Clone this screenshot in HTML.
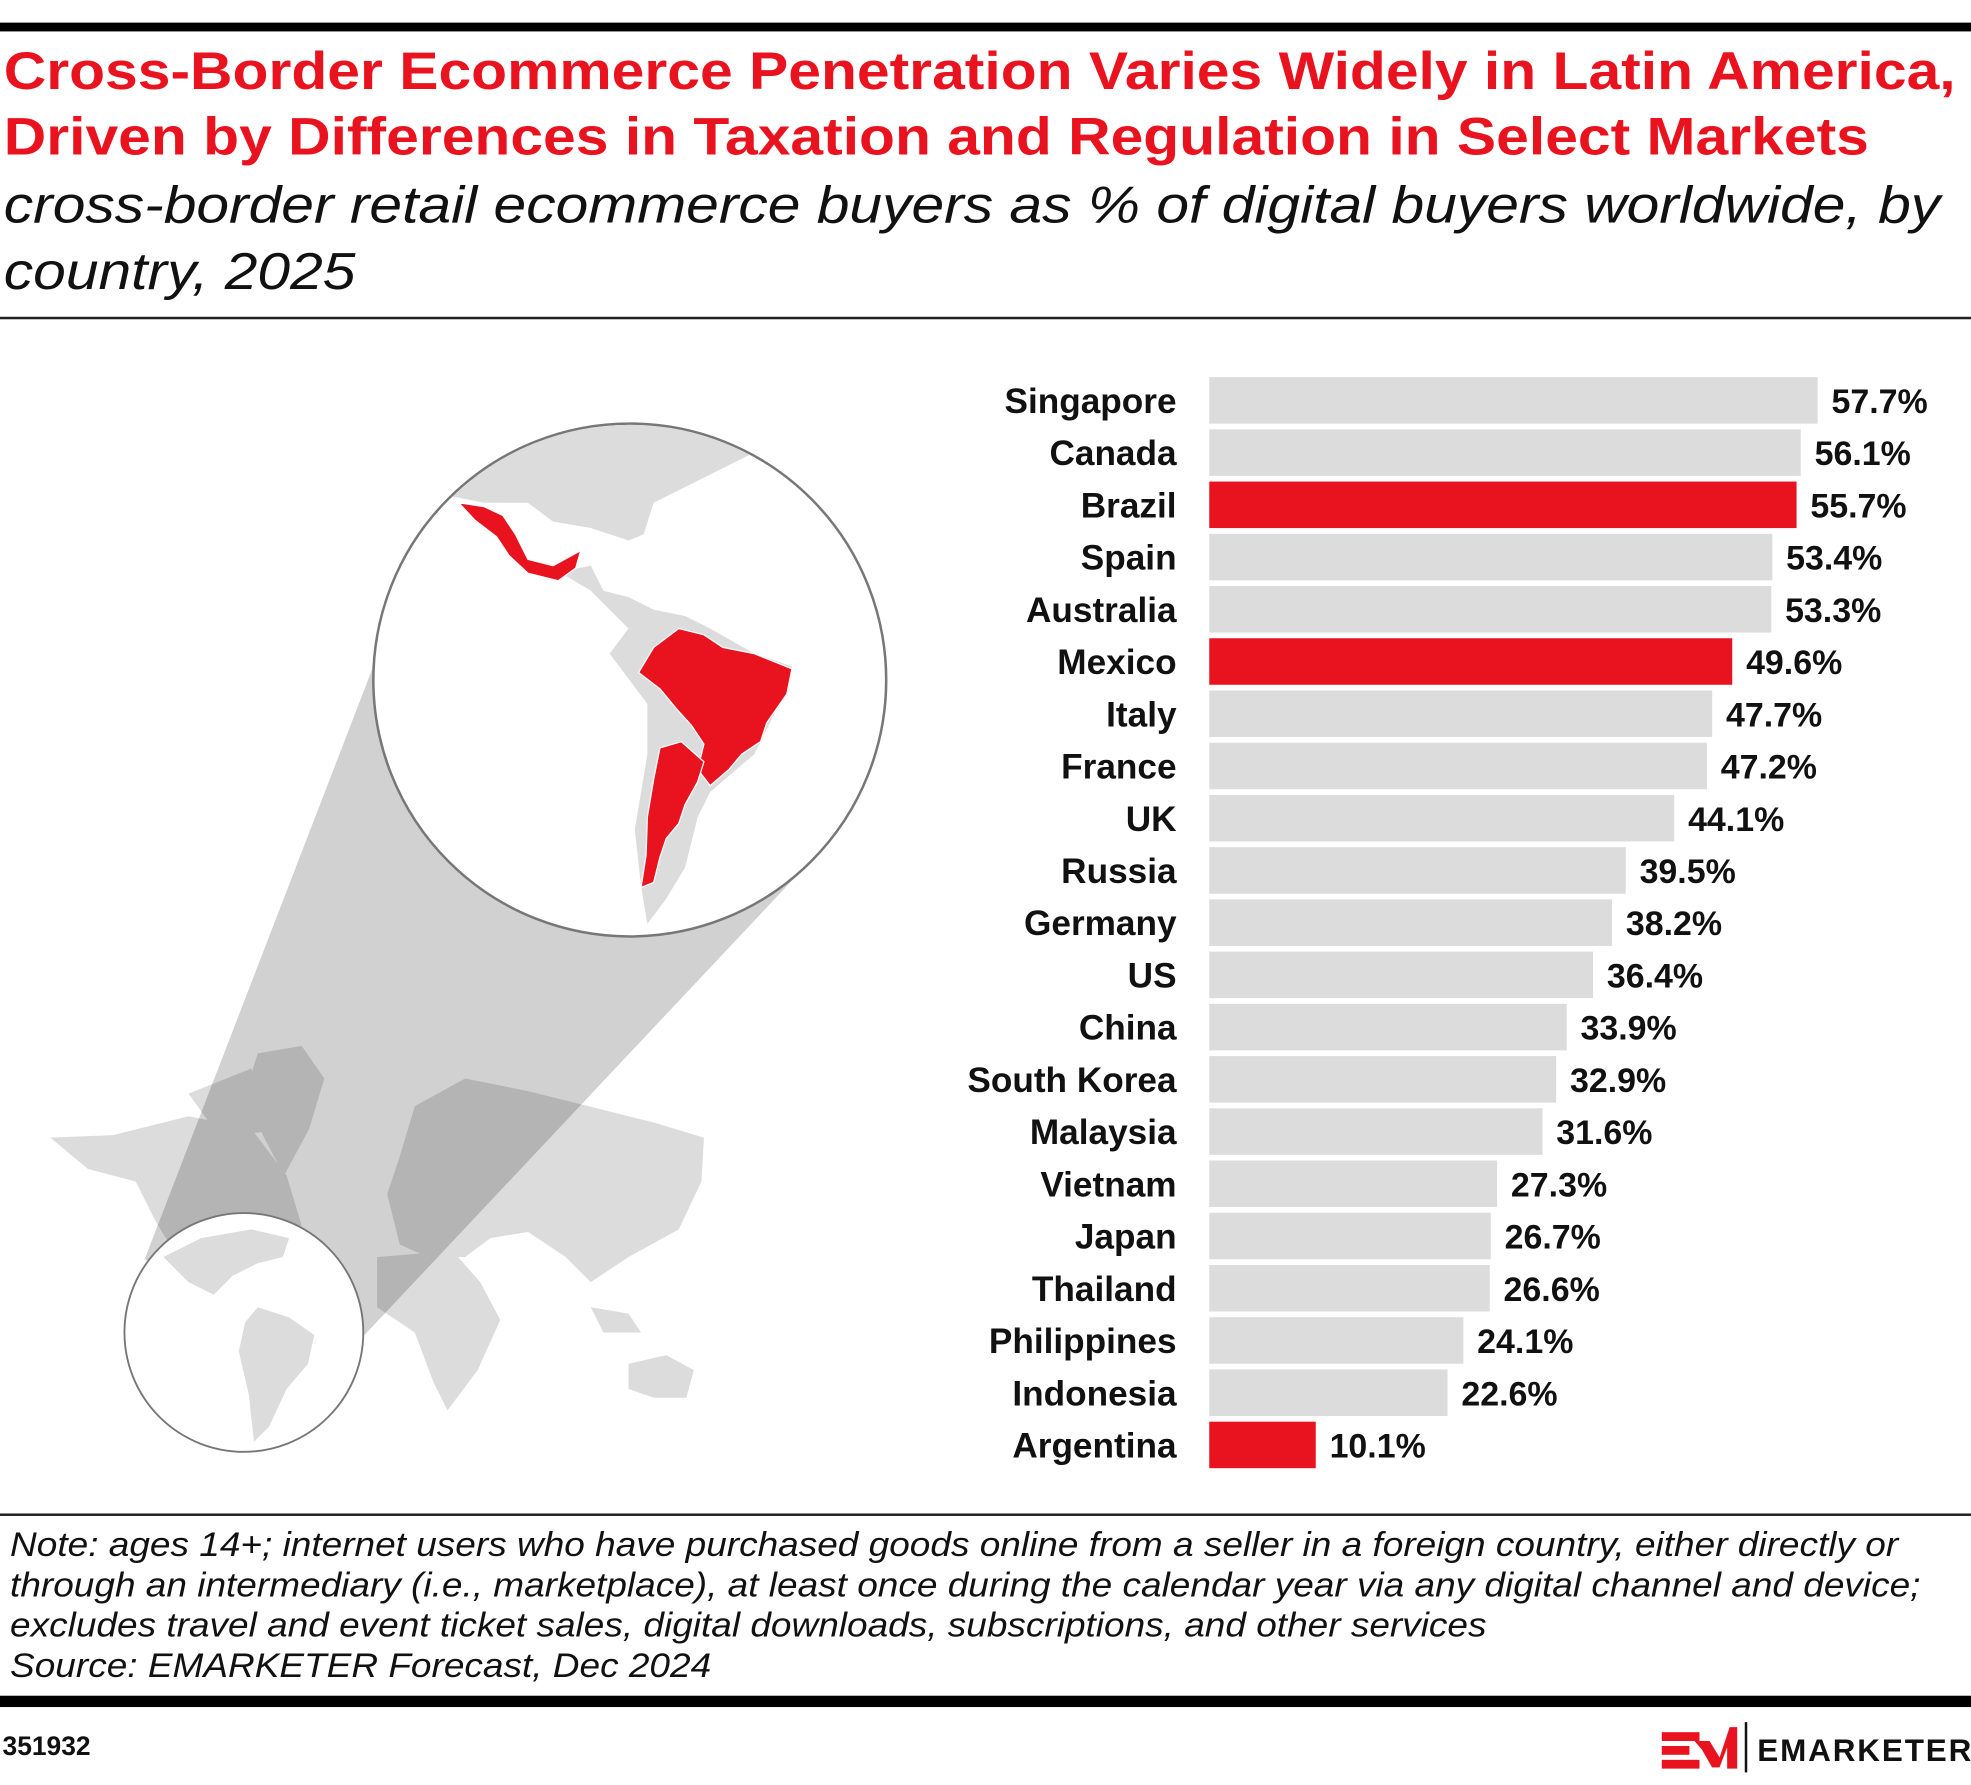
<!DOCTYPE html>
<html><head><meta charset="utf-8">
<style>
html,body{margin:0;padding:0;background:#fff;}
body{width:1971px;height:1785px;overflow:hidden;position:relative;}
#stage{position:absolute;left:0;top:0;width:1568px;height:1420px;transform:scale(1.25702);transform-origin:0 0;font-family:"Liberation Sans",sans-serif;}
.abs{position:absolute;}
.title{left:3px;color:#e8131f;font-weight:bold;font-size:42px;letter-spacing:0;white-space:nowrap;line-height:52px;transform:scaleX(1.114);transform-origin:0 0;}
.sub{left:3px;font-style:italic;font-size:41px;color:#111;white-space:nowrap;line-height:53px;transform:scaleX(1.14);transform-origin:0 0;}
.note{left:8px;font-style:italic;font-size:27px;color:#111;white-space:nowrap;line-height:32px;transform:scaleX(1.09);transform-origin:0 0;}
</style></head>
<body>
<div id="stage">
  <div class="abs" style="left:0;top:18px;width:1568px;height:7px;background:#000"></div>
  <div class="abs title" style="top:31px">Cross-Border Ecommerce Penetration Varies Widely in Latin America,<br>Driven by Differences in Taxation and Regulation in Select Markets</div>
  <div class="abs sub" style="top:137px">cross-border retail ecommerce buyers as % of digital buyers worldwide, by<br>country, 2025</div>
  <div class="abs" style="left:0;top:252px;width:1568px;height:2px;background:#222"></div>

  <svg class="abs" style="left:0;top:0" width="760" height="1200">
    <g fill="#dcdcdc">
      <polygon points="40,905 90,903 150,888 200,898 228,935 240,975 222,986 186,998 160,1010 140,998 124,972 108,940 70,930"/>
      <polygon points="205,838 240,832 258,858 246,898 226,935 210,905 195,870"/>
      <polygon points="150,870 200,850 212,900 175,905"/>
      <polygon points="330,880 370,858 420,868 460,878 520,893 560,905 558,940 540,978 500,1000 470,1020 450,1000 420,980 390,985 370,1000 340,1000 318,990 308,950 318,920"/>
      <polygon points="300,1000 360,995 382,1020 398,1050 380,1090 356,1122 345,1100 330,1060 300,1040"/>
      <polygon points="500,1085 530,1078 552,1090 546,1112 520,1112 500,1105"/>
      <polygon points="470,1040 500,1045 510,1060 480,1060"/>
    </g>
    <polygon points="115,1002 297,530 640,690 290,1062" fill="rgba(0,0,0,0.18)"/>
    <circle cx="194" cy="1060" r="95" fill="#fff" stroke="#777" stroke-width="1.5"/>
    <g fill="#dcdcdc">
      <polygon points="130,1000 160,985 200,978 230,985 225,1000 205,1005 185,1015 170,1030 150,1020"/>
      <polygon points="205,1040 230,1048 250,1062 245,1085 228,1105 214,1135 202,1147 198,1110 190,1075 195,1052"/>
    </g>
    <circle cx="501" cy="541" r="204" fill="#fff" stroke="#777" stroke-width="2"/>
    <clipPath id="bc"><circle cx="501" cy="541" r="203"/></clipPath>
    <g clip-path="url(#bc)">
      <polygon fill="#dcdcdc" points="360,395 400,360 450,338 560,330 620,340 600,360 560,380 520,400 512,425 500,430 470,420 440,415 420,400 385,400"/>
      <polygon fill="#dcdcdc" points="445,455 470,450 480,470 500,475 520,485 545,490 565,500 600,520 630,530 620,560 600,600 565,630 555,650 545,690 530,715 515,735 510,705 505,660 515,600 515,560 485,520 500,500 470,470"/>
      <g fill="#e8131f" stroke="#fff" stroke-width="1">
        <polygon points="365,400 385,403 400,410 410,425 420,445 440,450 462,438 458,452 444,462 420,456 405,442 395,427 378,414"/>
        <polygon points="508,535 520,515 540,500 560,505 575,515 600,520 630,532 626,552 610,575 605,590 590,600 580,612 565,625 555,612 560,592 550,577 540,566 525,548"/>
        <polygon points="525,595 542,590 560,606 555,622 545,640 540,655 530,667 525,682 520,702 510,706 514,680 515,650 520,620"/>
      </g>
    </g>
  </svg>

  <svg id="chart" class="abs" style="left:700px;top:280px" width="868" height="910"></svg>

  <div class="abs" style="left:0;top:1204px;width:1568px;height:2px;background:#222"></div>
  <div class="abs note" style="top:1213px">Note: ages 14+; internet users who have purchased goods online from a seller in a foreign country, either directly or<br>through an intermediary (i.e., marketplace), at least once during the calendar year via any digital channel and device;<br>excludes travel and event ticket sales, digital downloads, subscriptions, and other services<br>Source: EMARKETER Forecast, Dec 2024</div>
  <div class="abs" style="left:0;top:1349px;width:1568px;height:9px;background:#000"></div>
  <div class="abs" style="left:2px;top:1378px;font-size:21px;font-weight:bold;color:#111">351932</div>
  <svg class="abs" style="left:1318px;top:1368px" width="250" height="46">
    <g fill="#e8131f"><rect x="4" y="10" width="30" height="7"/><rect x="4" y="21" width="22" height="7"/><rect x="4" y="32" width="30" height="7"/>
    <polygon points="30,17 42,17 50,30 58,6 64,6 64,39 56,39 56,22 50,38 44,38 36,24"/></g>
    <rect x="70" y="2" width="2" height="40" fill="#111"/>
    <text x="80" y="33" font-family="Liberation Sans, sans-serif" font-weight="bold" font-size="25" letter-spacing="1.5" fill="#111">EMARKETER</text>
  </svg>
</div>
<script>
const countries=["Singapore","Canada","Brazil","Spain","Australia","Mexico","Italy","France","UK","Russia","Germany","US","China","South Korea","Malaysia","Vietnam","Japan","Thailand","Philippines","Indonesia","Argentina"];
const values=[57.7,56.1,55.7,53.4,53.3,49.6,47.7,47.2,44.1,39.5,38.2,36.4,33.9,32.9,31.6,27.3,26.7,26.6,24.1,22.6,10.1];
const highlighted=["Brazil","Mexico","Argentina"];
const svg=document.getElementById('chart');
const NS='http://www.w3.org/2000/svg';
const x0=262, pxPer=484/57.7, top0=20, pitch=41.55, bh=37;
function xs(v){return x0+v*pxPer;}
function ys(i){return top0+i*pitch;}
countries.forEach((c,i)=>{
  const y=ys(i);
  const r=document.createElementNS(NS,'rect');
  r.setAttribute('x',x0);r.setAttribute('y',y);
  r.setAttribute('width',xs(values[i])-x0);r.setAttribute('height',bh);
  r.setAttribute('fill',highlighted.includes(c)?'#e8131f':'#dcdcdc');
  
  
  svg.appendChild(r);
  const t=document.createElementNS(NS,'text');
  t.setAttribute('x',236);t.setAttribute('y',y+bh/2+10);
  t.setAttribute('text-anchor','end');
  t.setAttribute('font-family','Liberation Sans, sans-serif');
  t.setAttribute('font-weight','bold');t.setAttribute('font-size','28');t.setAttribute('fill','#111');
  t.textContent=c;
  
  
  svg.appendChild(t);
  const v=document.createElementNS(NS,'text');
  v.setAttribute('x',xs(values[i])+11);v.setAttribute('y',y+bh/2+10);
  v.setAttribute('font-family','Liberation Sans, sans-serif');
  v.setAttribute('font-weight','bold');v.setAttribute('font-size','27');v.setAttribute('fill','#111');
  v.textContent=values[i].toFixed(1)+'%';
  
  
  svg.appendChild(v);
});
</script>
</body></html>
